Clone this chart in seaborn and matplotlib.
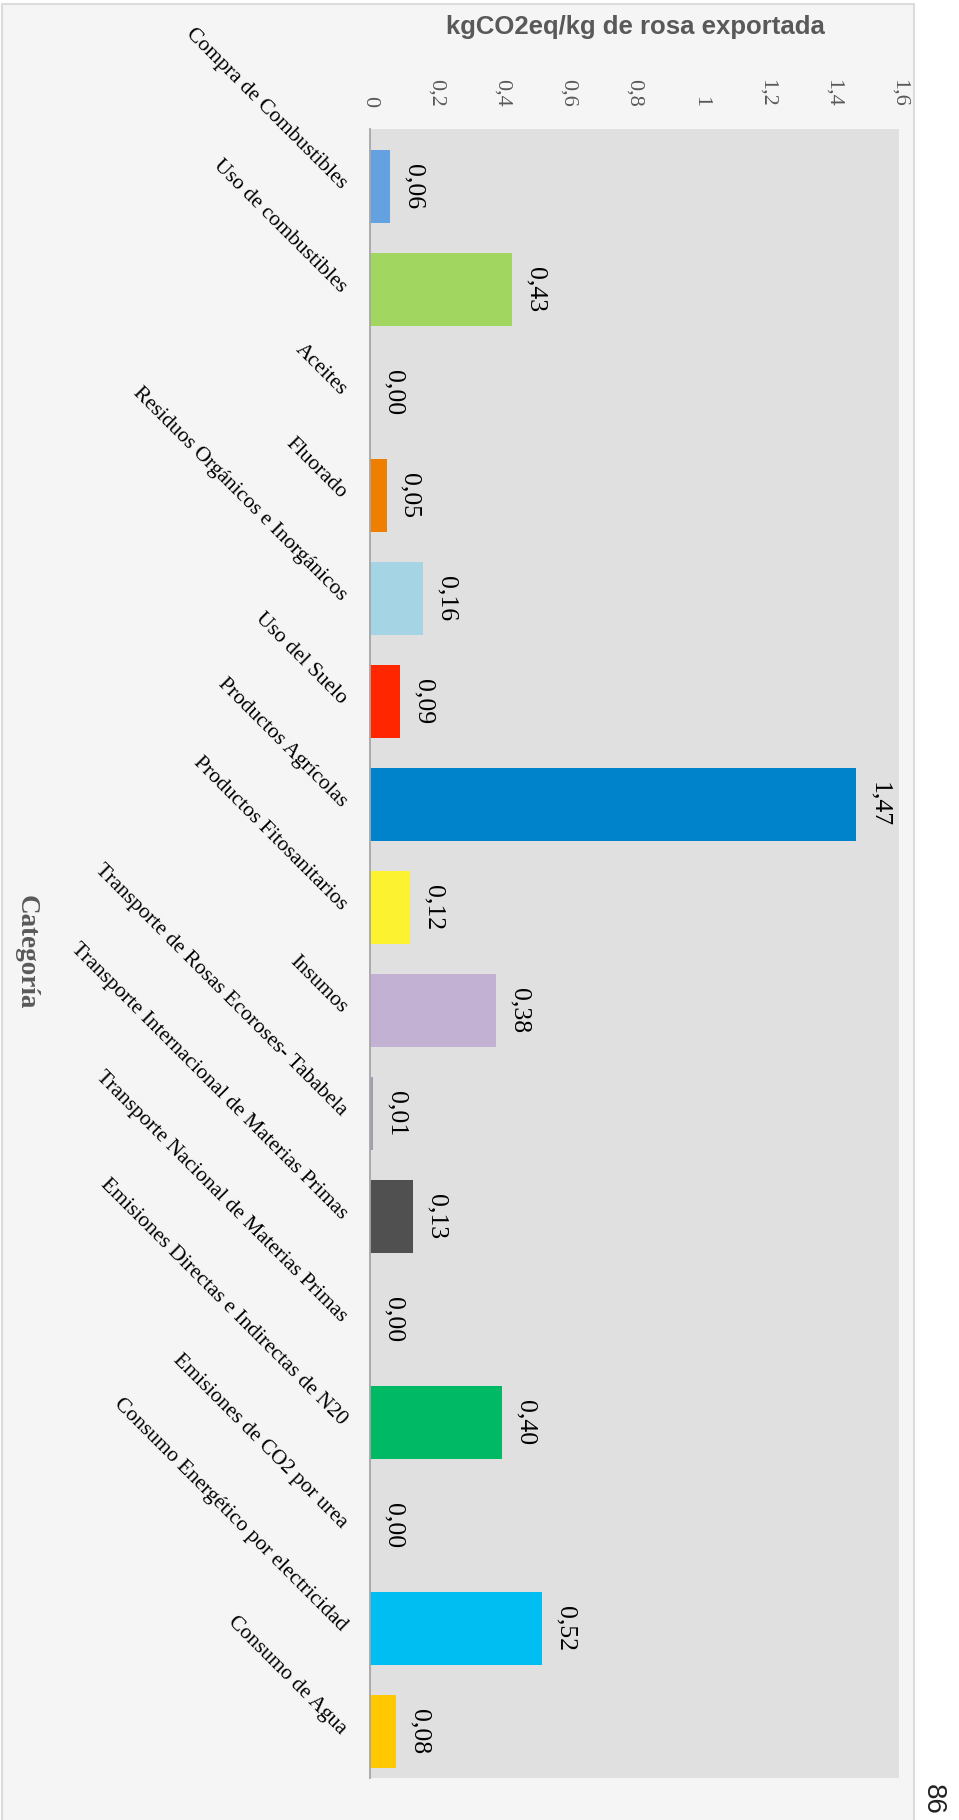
import matplotlib
matplotlib.use("Agg")
import matplotlib.pyplot as plt
import seaborn as sns
import pandas as pd
from matplotlib.patches import Rectangle

# Emission categories and their contribution (kgCO2eq per kg of exported rose)
categorias = [
    "Compra de Combustibles",
    "Uso de combustibles",
    "Aceites",
    "Fluorado",
    "Residuos Orgánicos e Inorgánicos",
    "Uso del Suelo",
    "Productos Agrícolas",
    "Productos Fitosanitarios",
    "Insumos",
    "Transporte de Rosas Ecoroses- Tababela",
    "Transporte Internacional de Materias Primas",
    "Transporte Nacional de Materias Primas",
    "Emisiones Directas e Indirectas de N20",
    "Emisiones de CO2 por urea",
    "Consumo Energético por electricidad",
    "Consumo de Agua",
]
valores = [0.06, 0.43, 0.00, 0.05, 0.16, 0.09, 1.47, 0.12,
           0.38, 0.01, 0.13, 0.00, 0.40, 0.00, 0.52, 0.08]
colores = ["#64A1E0", "#A1D661", "#8C8C8C", "#EE7F00", "#A5D5E5", "#FF2600",
           "#0083CA", "#FDF22F", "#C2B1D3", "#9E9EB5", "#505050", "#8C8C8C",
           "#00B964", "#8C8C8C", "#00BDF2", "#FFC800"]
ticks_x = [0, 0.2, 0.4, 0.6, 0.8, 1.0, 1.2, 1.4, 1.6]
ticks_x_txt = ["0", "0,2", "0,4", "0,6", "0,8", "1", "1,2", "1,4", "1,6"]

df = pd.DataFrame({"categoria": categorias, "valor": valores})

sns.set_style("white")
plt.rcParams["font.family"] = ["Liberation Serif", "DejaVu Serif"]

W, H, DPI = 959, 1820, 100
fig = plt.figure(figsize=(W / DPI, H / DPI), dpi=DPI, facecolor="white")

# light chart panel with thin border, behind everything
panel = Rectangle((2 / W, -0.01), (914 - 2) / W, (H - 4) / H + 0.01,
                  transform=fig.transFigure, facecolor="#F5F5F5",
                  edgecolor="#DCDCDC", linewidth=1.5, zorder=-10)
fig.patches.append(panel)

ax = fig.add_axes([370 / W, (H - 1778) / H, (899 - 370) / W, (1778 - 129) / H])
ax.set_zorder(1)
ax.set_facecolor("#E0E0E0")

sns.barplot(data=df, x="valor", y="categoria", hue="categoria",
            palette=colores, legend=False, orient="h", width=0.71,
            saturation=1, linewidth=0, ax=ax)

ax.set_xlim(0, 1.6)
ax.set_ylim(15.45, -0.558)

for s in ("top", "right", "bottom"):
    ax.spines[s].set_visible(False)
ax.spines["left"].set_color("#A6A6A6")
ax.spines["left"].set_linewidth(1.3)

# value axis on top, labels reading downward
ax.xaxis.tick_top()
ax.set_xticks(ticks_x)
ax.set_xticklabels(ticks_x_txt, rotation=-90, fontsize=16, color="#595959")
ax.tick_params(axis="x", length=0, pad=16)

ax.set_yticks(range(len(categorias)))
ax.set_yticklabels(categorias, fontsize=15.5, color="black")
ax.tick_params(axis="y", length=0, pad=19)
plt.setp(ax.get_yticklabels(), rotation=-45, ha="right", va="center",
         rotation_mode="anchor")

ax.set_xlabel("")
ax.set_ylabel("")

# value labels beside each bar
for i, v in enumerate(valores):
    ax.annotate(f"{v:.2f}".replace(".", ","), xy=(v, i),
                xytext=(9, 0), textcoords="offset points",
                rotation=-90, ha="left", va="center", fontsize=18.5,
                color="black")

fig.text(635 / W, 1 - 27 / H, "kgCO2eq/kg de rosa exportada",
         ha="center", va="center", fontsize=18.5, fontweight="bold",
         color="#595959", family=["Liberation Sans", "DejaVu Sans"])
fig.text(26 / W, 1 - 952 / H, "Categoría", rotation=-90,
         ha="center", va="center", fontsize=19.5, fontweight="bold",
         color="#595959")
fig.text(933 / W, 1 - 1799 / H, "86", rotation=-90,
         ha="center", va="center", fontsize=20, color="#222222",
         family=["Liberation Sans", "DejaVu Sans"])

fig.savefig("out.png", dpi=DPI, facecolor="white")
